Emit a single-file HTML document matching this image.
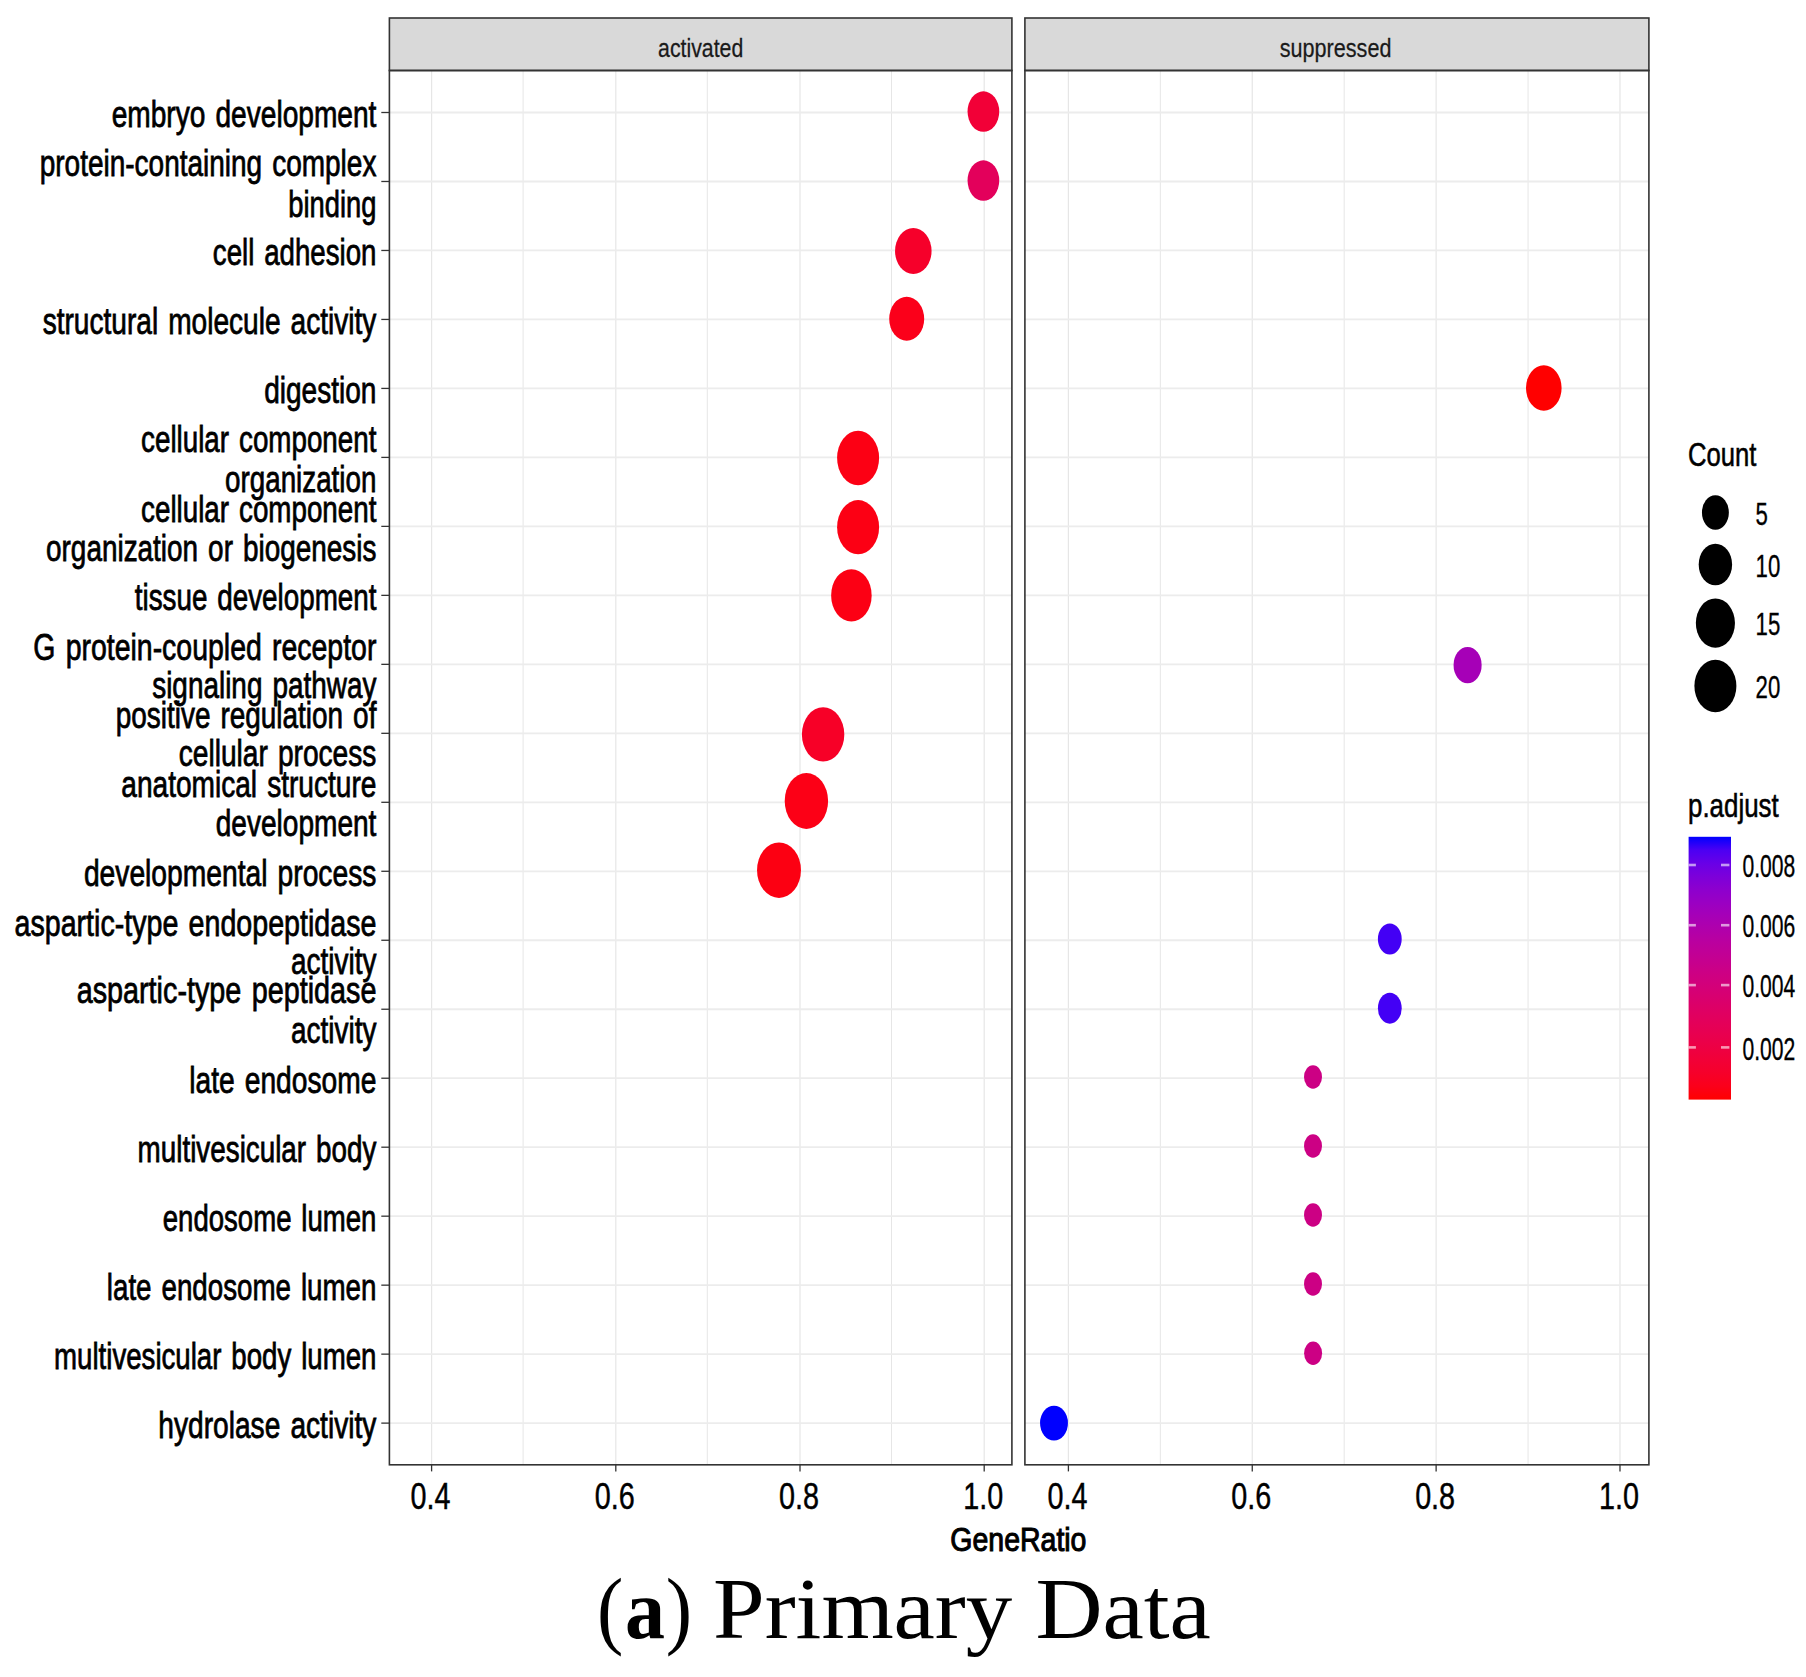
<!DOCTYPE html>
<html lang="en"><head><meta charset="utf-8"><title>Primary Data dotplot</title>
<style>html,body{margin:0;padding:0;background:#fff}svg{display:block}</style></head>
<body>
<svg width="1806" height="1677" viewBox="0 0 1806 1677" font-family="'Liberation Sans', sans-serif">
<rect width="1806" height="1677" fill="#fff"/>
<rect x="389.4" y="18.0" width="622.50" height="52.5" fill="#D9D9D9"/>
<rect x="389.4" y="70.5" width="622.50" height="1394.30" fill="#fff"/>
<g><line x1="431.60" x2="431.60" y1="70.5" y2="1464.8" stroke="#E6E6E6" stroke-width="1.2"/><line x1="523.10" x2="523.10" y1="70.5" y2="1464.8" stroke="#E6E6E6" stroke-width="1.0"/><line x1="615.80" x2="615.80" y1="70.5" y2="1464.8" stroke="#E6E6E6" stroke-width="1.2"/><line x1="707.30" x2="707.30" y1="70.5" y2="1464.8" stroke="#E6E6E6" stroke-width="1.0"/><line x1="800.00" x2="800.00" y1="70.5" y2="1464.8" stroke="#E6E6E6" stroke-width="1.2"/><line x1="891.50" x2="891.50" y1="70.5" y2="1464.8" stroke="#E6E6E6" stroke-width="1.0"/><line x1="984.20" x2="984.20" y1="70.5" y2="1464.8" stroke="#E6E6E6" stroke-width="1.2"/><line x1="389.4" x2="1011.9" y1="112.50" y2="112.50" stroke="#ECECEC" stroke-width="1.8"/><line x1="389.4" x2="1011.9" y1="181.48" y2="181.48" stroke="#ECECEC" stroke-width="1.8"/><line x1="389.4" x2="1011.9" y1="250.46" y2="250.46" stroke="#ECECEC" stroke-width="1.8"/><line x1="389.4" x2="1011.9" y1="319.44" y2="319.44" stroke="#ECECEC" stroke-width="1.8"/><line x1="389.4" x2="1011.9" y1="388.42" y2="388.42" stroke="#ECECEC" stroke-width="1.8"/><line x1="389.4" x2="1011.9" y1="457.40" y2="457.40" stroke="#ECECEC" stroke-width="1.8"/><line x1="389.4" x2="1011.9" y1="526.38" y2="526.38" stroke="#ECECEC" stroke-width="1.8"/><line x1="389.4" x2="1011.9" y1="595.36" y2="595.36" stroke="#ECECEC" stroke-width="1.8"/><line x1="389.4" x2="1011.9" y1="664.34" y2="664.34" stroke="#ECECEC" stroke-width="1.8"/><line x1="389.4" x2="1011.9" y1="733.32" y2="733.32" stroke="#ECECEC" stroke-width="1.8"/><line x1="389.4" x2="1011.9" y1="802.30" y2="802.30" stroke="#ECECEC" stroke-width="1.8"/><line x1="389.4" x2="1011.9" y1="871.28" y2="871.28" stroke="#ECECEC" stroke-width="1.8"/><line x1="389.4" x2="1011.9" y1="940.26" y2="940.26" stroke="#ECECEC" stroke-width="1.8"/><line x1="389.4" x2="1011.9" y1="1009.24" y2="1009.24" stroke="#ECECEC" stroke-width="1.8"/><line x1="389.4" x2="1011.9" y1="1078.22" y2="1078.22" stroke="#ECECEC" stroke-width="1.8"/><line x1="389.4" x2="1011.9" y1="1147.20" y2="1147.20" stroke="#ECECEC" stroke-width="1.8"/><line x1="389.4" x2="1011.9" y1="1216.18" y2="1216.18" stroke="#ECECEC" stroke-width="1.8"/><line x1="389.4" x2="1011.9" y1="1285.16" y2="1285.16" stroke="#ECECEC" stroke-width="1.8"/><line x1="389.4" x2="1011.9" y1="1354.14" y2="1354.14" stroke="#ECECEC" stroke-width="1.8"/><line x1="389.4" x2="1011.9" y1="1423.12" y2="1423.12" stroke="#ECECEC" stroke-width="1.8"/></g>
<rect x="1024.9" y="18.0" width="624.00" height="52.5" fill="#D9D9D9"/>
<rect x="1024.9" y="70.5" width="624.00" height="1394.30" fill="#fff"/>
<g><line x1="1068.40" x2="1068.40" y1="70.5" y2="1464.8" stroke="#E6E6E6" stroke-width="1.2"/><line x1="1160.33" x2="1160.33" y1="70.5" y2="1464.8" stroke="#E6E6E6" stroke-width="1.0"/><line x1="1252.26" x2="1252.26" y1="70.5" y2="1464.8" stroke="#E6E6E6" stroke-width="1.2"/><line x1="1344.19" x2="1344.19" y1="70.5" y2="1464.8" stroke="#E6E6E6" stroke-width="1.0"/><line x1="1436.12" x2="1436.12" y1="70.5" y2="1464.8" stroke="#E6E6E6" stroke-width="1.2"/><line x1="1528.05" x2="1528.05" y1="70.5" y2="1464.8" stroke="#E6E6E6" stroke-width="1.0"/><line x1="1619.98" x2="1619.98" y1="70.5" y2="1464.8" stroke="#E6E6E6" stroke-width="1.2"/><line x1="1024.9" x2="1648.9" y1="112.50" y2="112.50" stroke="#ECECEC" stroke-width="1.8"/><line x1="1024.9" x2="1648.9" y1="181.48" y2="181.48" stroke="#ECECEC" stroke-width="1.8"/><line x1="1024.9" x2="1648.9" y1="250.46" y2="250.46" stroke="#ECECEC" stroke-width="1.8"/><line x1="1024.9" x2="1648.9" y1="319.44" y2="319.44" stroke="#ECECEC" stroke-width="1.8"/><line x1="1024.9" x2="1648.9" y1="388.42" y2="388.42" stroke="#ECECEC" stroke-width="1.8"/><line x1="1024.9" x2="1648.9" y1="457.40" y2="457.40" stroke="#ECECEC" stroke-width="1.8"/><line x1="1024.9" x2="1648.9" y1="526.38" y2="526.38" stroke="#ECECEC" stroke-width="1.8"/><line x1="1024.9" x2="1648.9" y1="595.36" y2="595.36" stroke="#ECECEC" stroke-width="1.8"/><line x1="1024.9" x2="1648.9" y1="664.34" y2="664.34" stroke="#ECECEC" stroke-width="1.8"/><line x1="1024.9" x2="1648.9" y1="733.32" y2="733.32" stroke="#ECECEC" stroke-width="1.8"/><line x1="1024.9" x2="1648.9" y1="802.30" y2="802.30" stroke="#ECECEC" stroke-width="1.8"/><line x1="1024.9" x2="1648.9" y1="871.28" y2="871.28" stroke="#ECECEC" stroke-width="1.8"/><line x1="1024.9" x2="1648.9" y1="940.26" y2="940.26" stroke="#ECECEC" stroke-width="1.8"/><line x1="1024.9" x2="1648.9" y1="1009.24" y2="1009.24" stroke="#ECECEC" stroke-width="1.8"/><line x1="1024.9" x2="1648.9" y1="1078.22" y2="1078.22" stroke="#ECECEC" stroke-width="1.8"/><line x1="1024.9" x2="1648.9" y1="1147.20" y2="1147.20" stroke="#ECECEC" stroke-width="1.8"/><line x1="1024.9" x2="1648.9" y1="1216.18" y2="1216.18" stroke="#ECECEC" stroke-width="1.8"/><line x1="1024.9" x2="1648.9" y1="1285.16" y2="1285.16" stroke="#ECECEC" stroke-width="1.8"/><line x1="1024.9" x2="1648.9" y1="1354.14" y2="1354.14" stroke="#ECECEC" stroke-width="1.8"/><line x1="1024.9" x2="1648.9" y1="1423.12" y2="1423.12" stroke="#ECECEC" stroke-width="1.8"/></g>
<ellipse cx="983.4" cy="111.6" rx="15.85" ry="20.25" fill="#F20037"/>
<ellipse cx="983.4" cy="180.6" rx="15.85" ry="20.25" fill="#E3005B"/>
<ellipse cx="913.3" cy="251.0" rx="18.25" ry="23.10" fill="#F6002A"/>
<ellipse cx="906.7" cy="318.8" rx="17.50" ry="21.95" fill="#FB001A"/>
<ellipse cx="1543.8" cy="388.0" rx="17.80" ry="22.65" fill="#FF0000"/>
<ellipse cx="858.1" cy="458.0" rx="21.00" ry="27.20" fill="#FC0014"/>
<ellipse cx="858.1" cy="527.2" rx="21.00" ry="27.10" fill="#FC0014"/>
<ellipse cx="851.4" cy="595.4" rx="20.25" ry="26.20" fill="#FC0014"/>
<ellipse cx="1467.6" cy="665.1" rx="14.05" ry="18.10" fill="#A600B7"/>
<ellipse cx="823.1" cy="734.4" rx="21.20" ry="27.20" fill="#F70027"/>
<ellipse cx="806.4" cy="801.0" rx="21.70" ry="27.95" fill="#FC0016"/>
<ellipse cx="779.0" cy="870.2" rx="21.95" ry="27.70" fill="#FC0012"/>
<ellipse cx="1389.8" cy="939.0" rx="11.90" ry="15.45" fill="#4300F5"/>
<ellipse cx="1389.8" cy="1008.2" rx="11.90" ry="15.45" fill="#4300F5"/>
<ellipse cx="1313.0" cy="1077.0" rx="9.00" ry="11.70" fill="#CC0084"/>
<ellipse cx="1313.0" cy="1146.0" rx="9.00" ry="11.70" fill="#CC0084"/>
<ellipse cx="1313.0" cy="1215.0" rx="9.00" ry="11.70" fill="#CC0084"/>
<ellipse cx="1313.0" cy="1284.0" rx="9.00" ry="11.70" fill="#CC0084"/>
<ellipse cx="1313.1" cy="1353.2" rx="9.00" ry="11.70" fill="#CC0084"/>
<ellipse cx="1054.0" cy="1423.1" rx="13.95" ry="17.40" fill="#0000FF"/>
<rect x="389.4" y="18.0" width="622.50" height="52.5" fill="none" stroke="#333333" stroke-width="1.6"/>
<rect x="389.4" y="70.5" width="622.50" height="1394.30" fill="none" stroke="#333333" stroke-width="1.6"/>
<rect x="1024.9" y="18.0" width="624.00" height="52.5" fill="none" stroke="#333333" stroke-width="1.6"/>
<rect x="1024.9" y="70.5" width="624.00" height="1394.30" fill="none" stroke="#333333" stroke-width="1.6"/>
<text transform="translate(700.65,57.00) scale(0.8,1)" font-size="26.6" text-anchor="middle" fill="#1A1A1A" stroke="#1A1A1A" stroke-width="0.25" vector-effect="non-scaling-stroke" >activated</text>
<text transform="translate(1335.60,57.00) scale(0.812,1)" font-size="26.6" text-anchor="middle" fill="#1A1A1A" stroke="#1A1A1A" stroke-width="0.25" vector-effect="non-scaling-stroke" >suppressed</text>
<line x1="381.3" x2="389.4" y1="112.50" y2="112.50" stroke="#333333" stroke-width="1.3"/>
<text transform="translate(376.40,127.30) scale(0.7516,1)" font-size="37.4" text-anchor="end" fill="#000" stroke="#000" stroke-width="0.7" vector-effect="non-scaling-stroke" word-spacing="3">embryo development</text>
<line x1="381.3" x2="389.4" y1="181.48" y2="181.48" stroke="#333333" stroke-width="1.3"/>
<text transform="translate(376.40,176.28) scale(0.7488,1)" font-size="37.4" text-anchor="end" fill="#000" stroke="#000" stroke-width="0.7" vector-effect="non-scaling-stroke" word-spacing="3">protein-containing complex</text>
<text transform="translate(376.40,216.88) scale(0.73,1)" font-size="37.4" text-anchor="end" fill="#000" stroke="#000" stroke-width="0.7" vector-effect="non-scaling-stroke" word-spacing="3">binding</text>
<line x1="381.3" x2="389.4" y1="250.46" y2="250.46" stroke="#333333" stroke-width="1.3"/>
<text transform="translate(376.40,265.26) scale(0.7392,1)" font-size="37.4" text-anchor="end" fill="#000" stroke="#000" stroke-width="0.7" vector-effect="non-scaling-stroke" word-spacing="3">cell adhesion</text>
<line x1="381.3" x2="389.4" y1="319.44" y2="319.44" stroke="#333333" stroke-width="1.3"/>
<text transform="translate(376.40,334.24) scale(0.7509,1)" font-size="37.4" text-anchor="end" fill="#000" stroke="#000" stroke-width="0.7" vector-effect="non-scaling-stroke" word-spacing="3">structural molecule activity</text>
<line x1="381.3" x2="389.4" y1="388.42" y2="388.42" stroke="#333333" stroke-width="1.3"/>
<text transform="translate(376.40,403.22) scale(0.7497,1)" font-size="37.4" text-anchor="end" fill="#000" stroke="#000" stroke-width="0.7" vector-effect="non-scaling-stroke" word-spacing="3">digestion</text>
<line x1="381.3" x2="389.4" y1="457.40" y2="457.40" stroke="#333333" stroke-width="1.3"/>
<text transform="translate(376.40,452.20) scale(0.7426,1)" font-size="37.4" text-anchor="end" fill="#000" stroke="#000" stroke-width="0.7" vector-effect="non-scaling-stroke" word-spacing="3">cellular component</text>
<text transform="translate(376.40,492.40) scale(0.7426,1)" font-size="37.4" text-anchor="end" fill="#000" stroke="#000" stroke-width="0.7" vector-effect="non-scaling-stroke" word-spacing="3">organization</text>
<line x1="381.3" x2="389.4" y1="526.38" y2="526.38" stroke="#333333" stroke-width="1.3"/>
<text transform="translate(376.40,521.68) scale(0.7426,1)" font-size="37.4" text-anchor="end" fill="#000" stroke="#000" stroke-width="0.7" vector-effect="non-scaling-stroke" word-spacing="3">cellular component</text>
<text transform="translate(376.40,561.48) scale(0.7464,1)" font-size="37.4" text-anchor="end" fill="#000" stroke="#000" stroke-width="0.7" vector-effect="non-scaling-stroke" word-spacing="3">organization or biogenesis</text>
<line x1="381.3" x2="389.4" y1="595.36" y2="595.36" stroke="#333333" stroke-width="1.3"/>
<text transform="translate(376.40,610.16) scale(0.743,1)" font-size="37.4" text-anchor="end" fill="#000" stroke="#000" stroke-width="0.7" vector-effect="non-scaling-stroke" word-spacing="3">tissue development</text>
<line x1="381.3" x2="389.4" y1="664.34" y2="664.34" stroke="#333333" stroke-width="1.3"/>
<text transform="translate(376.40,659.84) scale(0.7613,1)" font-size="37.4" text-anchor="end" fill="#000" stroke="#000" stroke-width="0.7" vector-effect="non-scaling-stroke" word-spacing="3">G protein-coupled receptor</text>
<text transform="translate(376.40,697.94) scale(0.7465,1)" font-size="37.4" text-anchor="end" fill="#000" stroke="#000" stroke-width="0.7" vector-effect="non-scaling-stroke" word-spacing="3">signaling pathway</text>
<line x1="381.3" x2="389.4" y1="733.32" y2="733.32" stroke="#333333" stroke-width="1.3"/>
<text transform="translate(376.40,728.42) scale(0.747,1)" font-size="37.4" text-anchor="end" fill="#000" stroke="#000" stroke-width="0.7" vector-effect="non-scaling-stroke" word-spacing="3">positive regulation of</text>
<text transform="translate(376.40,766.12) scale(0.7525,1)" font-size="37.4" text-anchor="end" fill="#000" stroke="#000" stroke-width="0.7" vector-effect="non-scaling-stroke" word-spacing="3">cellular process</text>
<line x1="381.3" x2="389.4" y1="802.30" y2="802.30" stroke="#333333" stroke-width="1.3"/>
<text transform="translate(376.40,797.20) scale(0.7511,1)" font-size="37.4" text-anchor="end" fill="#000" stroke="#000" stroke-width="0.7" vector-effect="non-scaling-stroke" word-spacing="3">anatomical structure</text>
<text transform="translate(376.40,835.90) scale(0.7506,1)" font-size="37.4" text-anchor="end" fill="#000" stroke="#000" stroke-width="0.7" vector-effect="non-scaling-stroke" word-spacing="3">development</text>
<line x1="381.3" x2="389.4" y1="871.28" y2="871.28" stroke="#333333" stroke-width="1.3"/>
<text transform="translate(376.40,886.08) scale(0.7549,1)" font-size="37.4" text-anchor="end" fill="#000" stroke="#000" stroke-width="0.7" vector-effect="non-scaling-stroke" word-spacing="3">developmental process</text>
<line x1="381.3" x2="389.4" y1="940.26" y2="940.26" stroke="#333333" stroke-width="1.3"/>
<text transform="translate(376.40,936.06) scale(0.7654,1)" font-size="37.4" text-anchor="end" fill="#000" stroke="#000" stroke-width="0.7" vector-effect="non-scaling-stroke" word-spacing="3">aspartic-type endopeptidase</text>
<text transform="translate(376.40,973.66) scale(0.7469,1)" font-size="37.4" text-anchor="end" fill="#000" stroke="#000" stroke-width="0.7" vector-effect="non-scaling-stroke" word-spacing="3">activity</text>
<line x1="381.3" x2="389.4" y1="1009.24" y2="1009.24" stroke="#333333" stroke-width="1.3"/>
<text transform="translate(376.40,1003.34) scale(0.7693,1)" font-size="37.4" text-anchor="end" fill="#000" stroke="#000" stroke-width="0.7" vector-effect="non-scaling-stroke" word-spacing="3">aspartic-type peptidase</text>
<text transform="translate(376.40,1042.74) scale(0.7469,1)" font-size="37.4" text-anchor="end" fill="#000" stroke="#000" stroke-width="0.7" vector-effect="non-scaling-stroke" word-spacing="3">activity</text>
<line x1="381.3" x2="389.4" y1="1078.22" y2="1078.22" stroke="#333333" stroke-width="1.3"/>
<text transform="translate(376.40,1093.02) scale(0.7539,1)" font-size="37.4" text-anchor="end" fill="#000" stroke="#000" stroke-width="0.7" vector-effect="non-scaling-stroke" word-spacing="3">late endosome</text>
<line x1="381.3" x2="389.4" y1="1147.20" y2="1147.20" stroke="#333333" stroke-width="1.3"/>
<text transform="translate(376.40,1162.00) scale(0.7441,1)" font-size="37.4" text-anchor="end" fill="#000" stroke="#000" stroke-width="0.7" vector-effect="non-scaling-stroke" word-spacing="3">multivesicular body</text>
<line x1="381.3" x2="389.4" y1="1216.18" y2="1216.18" stroke="#333333" stroke-width="1.3"/>
<text transform="translate(376.40,1230.98) scale(0.7372,1)" font-size="37.4" text-anchor="end" fill="#000" stroke="#000" stroke-width="0.7" vector-effect="non-scaling-stroke" word-spacing="3">endosome lumen</text>
<line x1="381.3" x2="389.4" y1="1285.16" y2="1285.16" stroke="#333333" stroke-width="1.3"/>
<text transform="translate(376.40,1299.96) scale(0.7419,1)" font-size="37.4" text-anchor="end" fill="#000" stroke="#000" stroke-width="0.7" vector-effect="non-scaling-stroke" word-spacing="3">late endosome lumen</text>
<line x1="381.3" x2="389.4" y1="1354.14" y2="1354.14" stroke="#333333" stroke-width="1.3"/>
<text transform="translate(376.40,1368.94) scale(0.7391,1)" font-size="37.4" text-anchor="end" fill="#000" stroke="#000" stroke-width="0.7" vector-effect="non-scaling-stroke" word-spacing="3">multivesicular body lumen</text>
<line x1="381.3" x2="389.4" y1="1423.12" y2="1423.12" stroke="#333333" stroke-width="1.3"/>
<text transform="translate(376.40,1437.92) scale(0.753,1)" font-size="37.4" text-anchor="end" fill="#000" stroke="#000" stroke-width="0.7" vector-effect="non-scaling-stroke" word-spacing="3">hydrolase activity</text>
<line x1="431.60" x2="431.60" y1="1464.8" y2="1471.4" stroke="#333333" stroke-width="1.3"/>
<text transform="translate(430.60,1509.30) scale(0.765,1)" font-size="37.6" text-anchor="middle" fill="#000" stroke="#000" stroke-width="0.4" vector-effect="non-scaling-stroke" >0.4</text>
<line x1="615.80" x2="615.80" y1="1464.8" y2="1471.4" stroke="#333333" stroke-width="1.3"/>
<text transform="translate(614.80,1509.30) scale(0.765,1)" font-size="37.6" text-anchor="middle" fill="#000" stroke="#000" stroke-width="0.4" vector-effect="non-scaling-stroke" >0.6</text>
<line x1="800.00" x2="800.00" y1="1464.8" y2="1471.4" stroke="#333333" stroke-width="1.3"/>
<text transform="translate(799.00,1509.30) scale(0.765,1)" font-size="37.6" text-anchor="middle" fill="#000" stroke="#000" stroke-width="0.4" vector-effect="non-scaling-stroke" >0.8</text>
<line x1="984.20" x2="984.20" y1="1464.8" y2="1471.4" stroke="#333333" stroke-width="1.3"/>
<text transform="translate(983.20,1509.30) scale(0.765,1)" font-size="37.6" text-anchor="middle" fill="#000" stroke="#000" stroke-width="0.4" vector-effect="non-scaling-stroke" >1.0</text>
<line x1="1068.40" x2="1068.40" y1="1464.8" y2="1471.4" stroke="#333333" stroke-width="1.3"/>
<text transform="translate(1067.40,1509.30) scale(0.765,1)" font-size="37.6" text-anchor="middle" fill="#000" stroke="#000" stroke-width="0.4" vector-effect="non-scaling-stroke" >0.4</text>
<line x1="1252.26" x2="1252.26" y1="1464.8" y2="1471.4" stroke="#333333" stroke-width="1.3"/>
<text transform="translate(1251.26,1509.30) scale(0.765,1)" font-size="37.6" text-anchor="middle" fill="#000" stroke="#000" stroke-width="0.4" vector-effect="non-scaling-stroke" >0.6</text>
<line x1="1436.12" x2="1436.12" y1="1464.8" y2="1471.4" stroke="#333333" stroke-width="1.3"/>
<text transform="translate(1435.12,1509.30) scale(0.765,1)" font-size="37.6" text-anchor="middle" fill="#000" stroke="#000" stroke-width="0.4" vector-effect="non-scaling-stroke" >0.8</text>
<line x1="1619.98" x2="1619.98" y1="1464.8" y2="1471.4" stroke="#333333" stroke-width="1.3"/>
<text transform="translate(1618.98,1509.30) scale(0.765,1)" font-size="37.6" text-anchor="middle" fill="#000" stroke="#000" stroke-width="0.4" vector-effect="non-scaling-stroke" >1.0</text>
<text transform="translate(1018.40,1550.60) scale(0.85,1)" font-size="33.5" text-anchor="middle" fill="#000" stroke="#000" stroke-width="1.0" vector-effect="non-scaling-stroke" >GeneRatio</text>
<text transform="translate(1688.00,466.00) scale(0.77,1)" font-size="33.3" text-anchor="start" fill="#000" stroke="#000" stroke-width="0.5" vector-effect="non-scaling-stroke" >Count</text>
<ellipse cx="1715.4" cy="512.5" rx="13.45" ry="17.15" fill="#000"/>
<text transform="translate(1755.60,524.70) scale(0.725,1)" font-size="30.6" text-anchor="start" fill="#000" stroke="#000" stroke-width="0.3" vector-effect="non-scaling-stroke" >5</text>
<ellipse cx="1715.4" cy="564.5" rx="16.70" ry="20.80" fill="#000"/>
<text transform="translate(1755.60,576.70) scale(0.725,1)" font-size="30.6" text-anchor="start" fill="#000" stroke="#000" stroke-width="0.3" vector-effect="non-scaling-stroke" >10</text>
<ellipse cx="1715.4" cy="623.1" rx="19.55" ry="24.60" fill="#000"/>
<text transform="translate(1755.60,635.30) scale(0.725,1)" font-size="30.6" text-anchor="start" fill="#000" stroke="#000" stroke-width="0.3" vector-effect="non-scaling-stroke" >15</text>
<ellipse cx="1715.4" cy="686.0" rx="21.00" ry="26.20" fill="#000"/>
<text transform="translate(1755.60,698.20) scale(0.725,1)" font-size="30.6" text-anchor="start" fill="#000" stroke="#000" stroke-width="0.3" vector-effect="non-scaling-stroke" >20</text>
<text transform="translate(1688.00,817.20) scale(0.785,1)" font-size="33.0" text-anchor="start" fill="#000" stroke="#000" stroke-width="0.5" vector-effect="non-scaling-stroke" >p.adjust</text>
<defs><linearGradient id="cb" x1="0" y1="1" x2="0" y2="0"><stop offset="0.000" stop-color="#FF0000"/><stop offset="0.050" stop-color="#FB001A"/><stop offset="0.100" stop-color="#F6002A"/><stop offset="0.150" stop-color="#F20037"/><stop offset="0.200" stop-color="#ED0044"/><stop offset="0.250" stop-color="#E80050"/><stop offset="0.300" stop-color="#E3005B"/><stop offset="0.350" stop-color="#DD0066"/><stop offset="0.400" stop-color="#D70072"/><stop offset="0.450" stop-color="#D1007D"/><stop offset="0.500" stop-color="#CA0088"/><stop offset="0.550" stop-color="#C20094"/><stop offset="0.600" stop-color="#BA009F"/><stop offset="0.650" stop-color="#B000AB"/><stop offset="0.700" stop-color="#A600B7"/><stop offset="0.750" stop-color="#9A00C3"/><stop offset="0.800" stop-color="#8D00CE"/><stop offset="0.850" stop-color="#7C00DA"/><stop offset="0.900" stop-color="#6800E7"/><stop offset="0.950" stop-color="#4B00F3"/><stop offset="1.000" stop-color="#0000FF"/></linearGradient></defs>
<rect x="1688.6" y="836.8" width="42.40" height="262.80" fill="url(#cb)"/>
<line x1="1688.6" x2="1695.90" y1="865.0" y2="865.0" stroke="#fff" stroke-opacity="0.6" stroke-width="2.6"/>
<line x1="1721.00" x2="1729.40" y1="865.0" y2="865.0" stroke="#fff" stroke-opacity="0.6" stroke-width="2.6"/>
<text transform="translate(1742.40,877.10) scale(0.69,1)" font-size="30.6" text-anchor="start" fill="#000" stroke="#000" stroke-width="0.3" vector-effect="non-scaling-stroke" >0.008</text>
<line x1="1688.6" x2="1695.90" y1="925.2" y2="925.2" stroke="#fff" stroke-opacity="0.6" stroke-width="2.6"/>
<line x1="1721.00" x2="1729.40" y1="925.2" y2="925.2" stroke="#fff" stroke-opacity="0.6" stroke-width="2.6"/>
<text transform="translate(1742.40,937.30) scale(0.69,1)" font-size="30.6" text-anchor="start" fill="#000" stroke="#000" stroke-width="0.3" vector-effect="non-scaling-stroke" >0.006</text>
<line x1="1688.6" x2="1695.90" y1="985.1" y2="985.1" stroke="#fff" stroke-opacity="0.6" stroke-width="2.6"/>
<line x1="1721.00" x2="1729.40" y1="985.1" y2="985.1" stroke="#fff" stroke-opacity="0.6" stroke-width="2.6"/>
<text transform="translate(1742.40,997.20) scale(0.69,1)" font-size="30.6" text-anchor="start" fill="#000" stroke="#000" stroke-width="0.3" vector-effect="non-scaling-stroke" >0.004</text>
<line x1="1688.6" x2="1695.90" y1="1047.4" y2="1047.4" stroke="#fff" stroke-opacity="0.6" stroke-width="2.6"/>
<line x1="1721.00" x2="1729.40" y1="1047.4" y2="1047.4" stroke="#fff" stroke-opacity="0.6" stroke-width="2.6"/>
<text transform="translate(1742.40,1059.50) scale(0.69,1)" font-size="30.6" text-anchor="start" fill="#000" stroke="#000" stroke-width="0.3" vector-effect="non-scaling-stroke" >0.002</text>
<g font-family="'Liberation Serif', serif" font-size="86" fill="#000">
<text transform="translate(597.0,1638.2) scale(0.92,1.0)" font-weight="normal">(</text>
<text transform="translate(625.0,1638.2) scale(0.93,0.975)" font-weight="bold">a</text>
<text transform="translate(665.8,1638.2) scale(0.92,1.0)" font-weight="normal">)</text>
<text transform="translate(713.0,1638.2) scale(1.08,1.0)" font-weight="normal">Primary Data</text>
</g>
</svg>
</body></html>
